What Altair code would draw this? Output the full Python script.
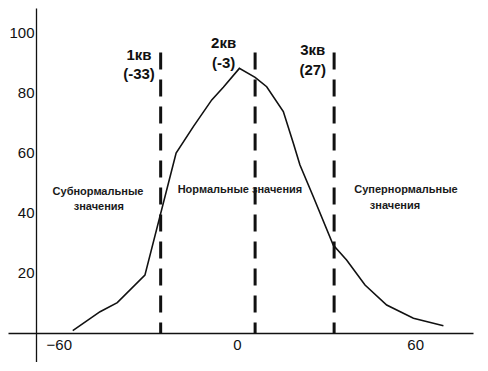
import altair as alt
import pandas as pd

# curve
curve_x = [-55.3, -46.1, -40.3, -31.0, -20.5, -14.7, -8.5, -4.6, 0.8, 6.1, 10.0, 15.6, 19.0, 21.2, 25.7, 32.4, 36.9, 43.1, 50.4, 59.4, 69.5]
curve_y = [0.8, 7.1, 10.1, 19.3, 60.0, 68.8, 77.7, 81.9, 88.2, 85.2, 82.1, 73.8, 63.2, 56.0, 45.4, 29.3, 24.3, 16.0, 9.3, 4.9, 2.4]

# quartile dashed lines (as drawn) and their labels
line_x = [-25.7, 6.1, 32.7]
line_top = [93.5, 93.5, 93.5]
q_names = ["1кв", "2кв", "3кв"]
q_values = ["(-33)", "(-3)", "(27)"]
q_label_x = [-33, -4.5, 25.5]
q_name_y = [92.7, 96.7, 94.3]
q_value_y = [86.3, 90.0, 87.7]

# region captions
region_text = ["Субнормальные", "значения", "Нормальные значения", "Супернормальные", "значения"]
region_x = [-46.8, -46.5, 1.0, 56.9, 53.2]
region_y = [47.0, 42.0, 47.7, 47.7, 42.3]

x_ticks = [-60, 0, 60]
y_ticks = [20, 40, 60, 80, 100]

INK = "#111111"
FONT = "Liberation Sans"

xs = alt.Scale(domain=[-77.1, 79.46], nice=False, zero=False)
ys = alt.Scale(domain=[-9.67, 108.33], nice=False, zero=False)

curve_df = pd.DataFrame({"x": curve_x, "y": curve_y})
lines_df = pd.DataFrame({"x": line_x, "top": line_top, "bottom": [0, 0, 0]})
qlab_df = pd.DataFrame({
    "x": q_label_x + q_label_x,
    "y": q_name_y + q_value_y,
    "t": q_names + q_values,
})
reg_df = pd.DataFrame({"x": region_x, "y": region_y, "t": region_text})

x_axis = alt.Axis(values=x_ticks, orient="bottom", offset=-29, ticks=False, tickSize=0,
                  grid=False, domainColor=INK, domainWidth=1.3, labelFontSize=15,
                  labelFont=FONT, labelColor=INK, labelPadding=4, title=None)
y_axis = alt.Axis(values=y_ticks, orient="left", offset=-28, ticks=False, tickSize=0,
                  grid=False, domainColor=INK, domainWidth=1.3, labelFontSize=15,
                  labelFont=FONT, labelColor=INK, labelPadding=2, title=None)

curve = alt.Chart(curve_df).mark_line(color=INK, strokeWidth=1.6).encode(
    x=alt.X("x:Q", scale=xs, axis=x_axis),
    y=alt.Y("y:Q", scale=ys, axis=y_axis),
    order=alt.Order("x:Q"),
)

rules = alt.Chart(lines_df).mark_rule(color=INK, strokeWidth=3, strokeDash=[17, 10]).encode(
    x=alt.X("x:Q", scale=xs),
    y=alt.Y("top:Q", scale=ys),
    y2="bottom:Q",
)

qlabels = alt.Chart(qlab_df).mark_text(font=FONT, fontSize=15, fontWeight="bold", color=INK,
                                       align="center", baseline="middle").encode(
    x=alt.X("x:Q", scale=xs),
    y=alt.Y("y:Q", scale=ys),
    text="t:N",
)

regions = alt.Chart(reg_df).mark_text(font=FONT, fontSize=11, fontWeight="bold", color="#1a1a1a",
                                      align="center", baseline="middle").encode(
    x=alt.X("x:Q", scale=xs),
    y=alt.Y("y:Q", scale=ys),
    text="t:N",
)

chart = alt.layer(curve, rules, qlabels, regions).properties(
    width=465, height=354,
    autosize=alt.AutoSizeParams(type="none"),
    padding={"left": 0, "top": 0, "right": 7, "bottom": 0},
).configure(background="white", view=alt.ViewConfig(stroke=None))

chart.save("out.html", embed_options={"renderer": "svg", "actions": False})
